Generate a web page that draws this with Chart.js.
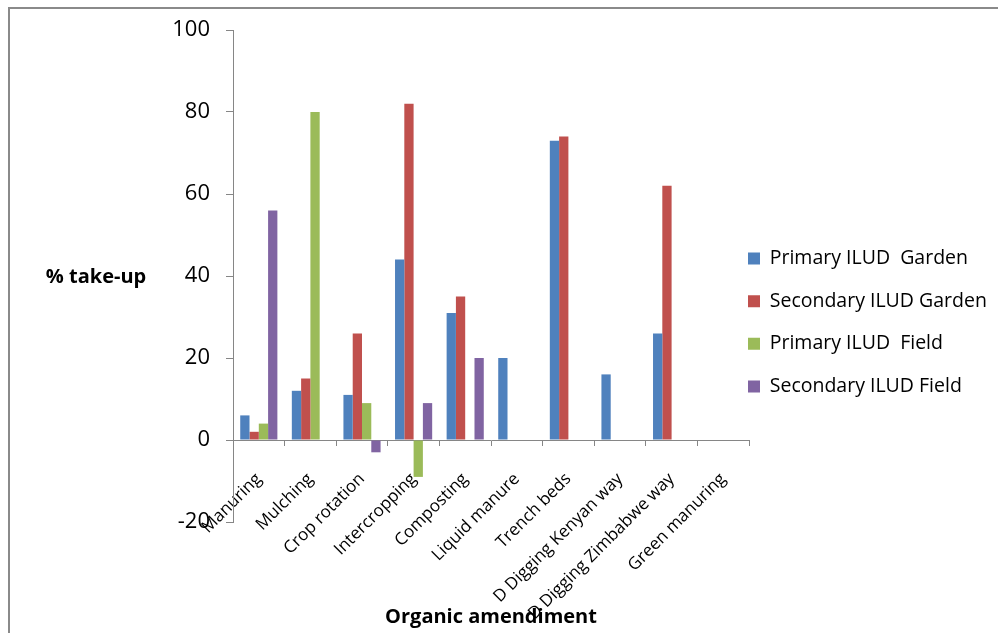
<!DOCTYPE html>
<html>
<head>
<meta charset="utf-8">
<script src="https://cdn.jsdelivr.net/npm/chart.js@4"></script>
<style>
  html, body { margin: 0; padding: 0; background: #fff; }
  #wrap { position: relative; width: 998px; height: 633px; overflow: hidden; }
  #frame { position: absolute; left: 8px; top: 7px; width: 1200px; height: 800px;
           border-left: 2px solid #8a8a8a; border-top: 2px solid #8a8a8a; }
  canvas { position: absolute; left: 0; top: 0; }
</style>
</head>
<body>
<div id="wrap">
  <div id="frame"></div>
  <canvas id="chart" width="998" height="633"></canvas>
</div>
<script>
// Organic amendment take-up by ILUD group
const categories = [
  'Manuring', 'Mulching', 'Crop rotation', 'Intercropping', 'Composting',
  'Liquid manure', 'Trench beds', 'D Digging Kenyan way',
  'D Digging Zimbabwe way', 'Green manuring'
];
const seriesNames = [
  'Primary ILUD  Garden', 'Secondary ILUD Garden',
  'Primary ILUD  Field', 'Secondary ILUD Field'
];
const primaryGarden   = [6, 12, 11, 44, 31, 20, 73, 16, 26, null];
const secondaryGarden = [2, 15, 26, 82, 35, null, 74, null, 62, null];
const primaryField    = [4, 80, 9, -9, null, null, null, null, null, null];
const secondaryField  = [56, null, -3, 9, 20, null, null, null, null, null];
const yTicks = [-20, 0, 20, 40, 60, 80, 100];

const seriesColors = ['#4F81BD', '#C0504D', '#9BBB59', '#8064A2'];
const FONT = '"Open Sans", "DejaVu Sans", sans-serif';
const AXIS_GREY = '#868686';

// Vertical axis caption, written horizontally to the left of the scale
const yCaption = {
  id: 'yCaption',
  afterDraw(chart) {
    const { ctx } = chart;
    ctx.save();
    ctx.font = 'bold 20px ' + FONT;
    ctx.fillStyle = '#000';
    ctx.textAlign = 'center';
    ctx.textBaseline = 'middle';
    ctx.fillText('% take-up', 96, 277);
    ctx.restore();
  }
};

// Keep the legend snug against the plot and placed at a fixed height;
// the right edge stays at the canvas edge so long labels are not clipped
const legendPlacement = {
  id: 'legendPlacement',
  afterLayout(chart) {
    const lg = chart.legend;
    const pad = lg.options.labels.padding;
    lg.left = chart.chartArea.right - 1 - pad;
    lg.right = chart.width;
    const h = lg.bottom - lg.top;
    lg.top = 225.5;
    lg.bottom = lg.top + h;
  }
};

const datasets = [primaryGarden, secondaryGarden, primaryField, secondaryField].map((d, i) => ({
  label: seriesNames[i],
  data: d,
  backgroundColor: seriesColors[i],
  borderWidth: 0,
  categoryPercentage: 0.72,
  barPercentage: 1.0
}));

new Chart(document.getElementById('chart'), {
  type: 'bar',
  data: { labels: categories, datasets },
  plugins: [yCaption, legendPlacement],
  options: {
    responsive: false,
    animation: false,
    devicePixelRatio: 1,
    layout: { padding: { left: 172, top: 30, right: 0, bottom: 0 } },
    plugins: {
      tooltip: { enabled: false },
      legend: {
        position: 'right',
        align: 'start',
        maxWidth: 249,
        labels: {
          boxWidth: 12,
          boxHeight: 12,
          padding: 23.2,
          color: '#000',
          font: { family: FONT, size: 19.5 }
        }
      },
      title: {
        display: true,
        position: 'bottom',
        fullSize: false,
        text: 'Organic amendiment',
        color: '#000',
        font: { family: FONT, size: 20, weight: 'bold' },
        padding: { top: 83, bottom: 4 }
      }
    },
    scales: {
      x: {
        position: { y: 0 },
        offset: true,
        grid: {
          display: true,
          drawOnChartArea: false,
          offset: true,
          tickLength: 5,
          color: AXIS_GREY
        },
        border: { display: true, color: AXIS_GREY, width: 1 },
        ticks: {
          autoSkip: false,
          minRotation: 45,
          maxRotation: 45,
          padding: 24,
          color: '#000',
          font: { family: FONT, size: 17 }
        }
      },
      y: {
        min: -20,
        max: 100,
        afterFit(scale) { scale.width = 61; },
        afterBuildTicks(scale) { scale.ticks = yTicks.map(v => ({ value: v })); },
        grid: {
          display: true,
          drawOnChartArea: false,
          tickLength: 7,
          color: AXIS_GREY
        },
        border: { display: true, color: AXIS_GREY, width: 1 },
        ticks: {
          padding: 16,
          color: '#000',
          font: { family: FONT, size: 22 }
        }
      }
    }
  }
});
</script>
</body>
</html>
